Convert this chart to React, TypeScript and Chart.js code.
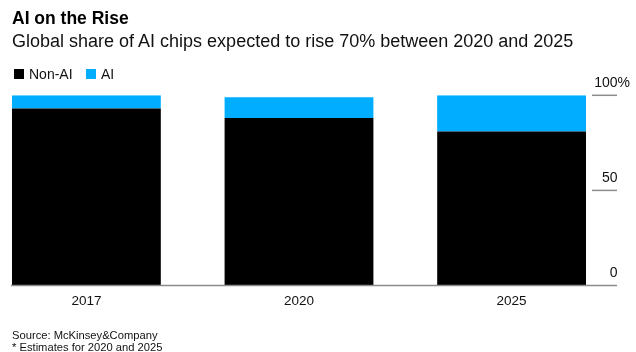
import React, { useEffect, useRef } from "react";
import { Chart, registerables } from "chart.js";

Chart.register(...registerables);

const categories = ["2017", "2020", "2025"];
const nonAIShare = [93, 88, 81];
const aiShare = [7, 11, 19];
const yTickValues = [0, 50, 100];

const FONT = '"Liberation Sans", Arial, Helvetica, sans-serif';

export default function App() {
  const canvasRef = useRef<HTMLCanvasElement | null>(null);

  useEffect(() => {
    document.body.style.margin = "0";
    const canvas = canvasRef.current;
    if (!canvas) return;

    const overlay = {
      id: "overlay",
      afterDraw(chart: any) {
        const { ctx, chartArea, scales } = chart;
        const xs = scales.x;
        const ys = scales.y;
        const lineRight = chartArea.right + 31;
        ctx.save();
        ctx.strokeStyle = "#8c8c8c";
        ctx.lineWidth = 1.5;
        const y0 = ys.getPixelForValue(0);
        ctx.beginPath();
        ctx.moveTo(chartArea.left - 1, y0);
        ctx.lineTo(lineRight, y0);
        ctx.stroke();
        yTickValues.forEach((v) => {
          if (v === 0) return;
          const y = ys.getPixelForValue(v);
          ctx.beginPath();
          ctx.moveTo(chartArea.right + 6, y);
          ctx.lineTo(lineRight, y);
          ctx.stroke();
        });
        ctx.fillStyle = "#111";
        ctx.textBaseline = "alphabetic";
        ctx.font = `14px ${FONT}`;
        yTickValues.forEach((v) => {
          const y = ys.getPixelForValue(v) - 8.5;
          ctx.textAlign = "right";
          ctx.fillText(String(v), lineRight + 0.5, y);
          if (v === 100) {
            ctx.textAlign = "left";
            ctx.fillText("%", lineRight + 0.5, y);
          }
        });
        ctx.font = `13.5px ${FONT}`;
        ctx.textAlign = "center";
        categories.forEach((c, i) => {
          ctx.fillText(c, xs.getPixelForValue(i), y0 + 19.5);
        });
        ctx.restore();
      },
    };

    const chart = new Chart(canvas, {
      type: "bar",
      data: {
        datasets: [
          {
            label: "Non-AI",
            data: nonAIShare.map((v, i) => ({ x: i, y: v })),
            backgroundColor: "#000000",
            borderWidth: 0,
          },
          {
            label: "AI",
            data: aiShare.map((v, i) => ({ x: i, y: v })),
            backgroundColor: "#00adff",
            borderWidth: 0,
          },
        ],
      },
      options: {
        responsive: false,
        animation: false,
        devicePixelRatio: 1,
        layout: { padding: { left: 12, right: 50, top: 95.3, bottom: 66.5 } },
        plugins: {
          legend: { display: false },
          tooltip: { enabled: false },
          title: { display: false },
        },
        datasets: { bar: { barPercentage: 1, categoryPercentage: 0.7 } },
        scales: {
          x: {
            type: "linear",
            stacked: true,
            display: false,
            offset: false,
            grid: { offset: false },
            min: -0.35,
            max: categories.length - 1 + 0.35,
            afterBuildTicks: (s: any) => {
              s.ticks = categories.map((_, i) => ({ value: i }));
            },
          },
          y: { stacked: true, display: false, min: 0, max: 100 },
        },
      } as any,
      plugins: [overlay],
    });
    return () => chart.destroy();
  }, []);

  const txt = { position: "absolute" as const, fontFamily: FONT, color: "#111", whiteSpace: "nowrap" as const, margin: 0 };

  return (
    <div style={{ position: "relative", width: 636, height: 352, overflow: "hidden", background: "#fff" }}>
      <canvas ref={canvasRef} width={636} height={352} style={{ position: "absolute", left: 0, top: 0, width: 636, height: 352 }} />
      <div style={{ ...txt, left: 12, top: 10.2, fontSize: 17.5, lineHeight: "17.5px", fontWeight: 700, color: "#000" }}>AI on the Rise</div>
      <div style={{ ...txt, left: 12, top: 31.5, fontSize: 18, lineHeight: "18px" }}>Global share of AI chips expected to rise 70% between 2020 and 2025</div>
      <div style={{ position: "absolute", left: 14, top: 69, width: 10, height: 10, background: "#000" }} />
      <div style={{ ...txt, left: 29, top: 67.2, fontSize: 14, lineHeight: "14px" }}>Non-AI</div>
      <div style={{ position: "absolute", left: 86, top: 69, width: 10, height: 10, background: "#00adff" }} />
      <div style={{ ...txt, left: 101, top: 67.2, fontSize: 14, lineHeight: "14px" }}>AI</div>
      <div style={{ ...txt, left: 12, top: 330.2, fontSize: 11.2, lineHeight: "11.7px" }}>
        Source: McKinsey&amp;Company
        <br />* Estimates for 2020 and 2025
      </div>
    </div>
  );
}
